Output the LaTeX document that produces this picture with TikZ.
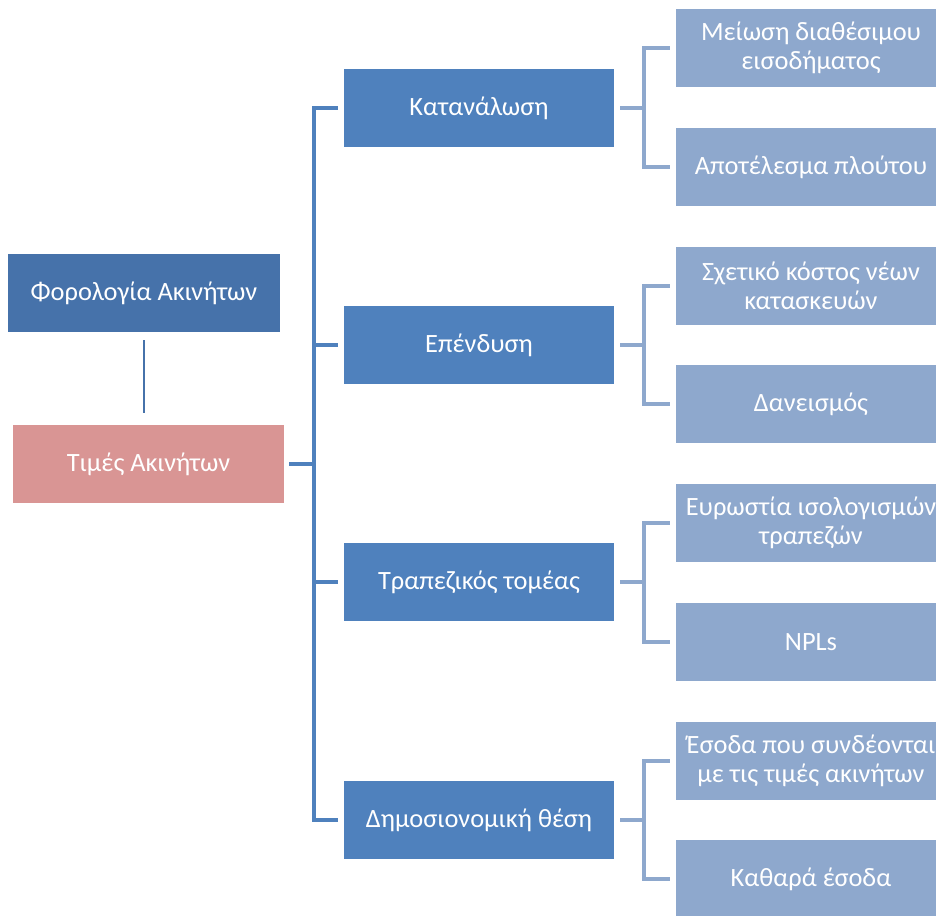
\documentclass[tikz,border=0pt]{standalone}
\usepackage{fontspec}
\setmainfont{Carlito}
\definecolor{topblue}{HTML}{4672AA}
\definecolor{midblue}{HTML}{4F81BD}
\definecolor{lightblue}{HTML}{8EA8CD}
\definecolor{pinkred}{HTML}{D99594}
\begin{document}
\begin{tikzpicture}[x=0.75pt,y=-0.75pt,
  box/.style={rectangle,inner sep=0pt,text=white,align=center,
    font=\fontsize{19.8}{22}\selectfont,minimum width=202.5pt,minimum height=58.5pt},
  topbox/.style={box,fill=topblue,minimum width=204pt},
  rootbox/.style={box,fill=pinkred,minimum width=203pt},
  midbox/.style={box,fill=midblue},
  leafbox/.style={box,fill=lightblue},
  mainconn/.style={draw=midblue,line width=3pt},
  leafconn/.style={draw=lightblue,line width=3pt},
  thinconn/.style={draw=topblue,line width=1.5pt}]
\useasboundingbox (0,0) rectangle (936,916);
\clip (0,0) rectangle (936,916);
\node[topbox] (f) at (144,293) {Φορολογία Ακινήτων};
\node[rootbox] (t) at (148.5,464) {Τιμές Ακινήτων};
\node[midbox] (m1) at (479,108) {Κατανάλωση};
\node[midbox] (m2) at (479,345) {Επένδυση};
\node[midbox] (m3) at (479,582) {Τραπεζικός τομέας};
\node[midbox] (m4) at (479,820) {Δημοσιονομική θέση};
\node[leafbox] (l1) at (811,48) {Μείωση διαθέσιμου\\εισοδήματος};
\node[leafbox] (l2) at (811,167) {Αποτέλεσμα πλούτου};
\node[leafbox] (l3) at (811,286) {Σχετικό κόστος νέων\\κατασκευών};
\node[leafbox] (l4) at (811,404) {Δανεισμός};
\node[leafbox] (l5) at (811,523) {Ευρωστία ισολογισμών\\τραπεζών};
\node[leafbox] (l6) at (811,642) {NPLs};
\node[leafbox] (l7) at (811,761) {Έσοδα που συνδέονται\\με τις τιμές ακινήτων};
\node[leafbox] (l8) at (811,879) {Καθαρά έσοδα};
% thin link
\draw[thinconn] ([yshift=-6pt]f.south) -- ([yshift=9pt]f.south |- t.north);
% main spine
\coordinate (sp) at (314,0);
\draw[mainconn] ([xshift=3.75pt]t.east) -- (sp |- t.east);
\draw[mainconn] ([xshift=-4.5pt]m1.west) -| (sp |- m4.west) -- ([xshift=-4.5pt]m4.west);
\draw[mainconn] (sp |- m2.west) -- ([xshift=-4.5pt]m2.west);
\draw[mainconn] (sp |- m3.west) -- ([xshift=-4.5pt]m3.west);
% leaf brackets
\coordinate (lp) at (644,0);
\foreach \m/\a/\b in {m1/l1/l2,m2/l3/l4,m3/l5/l6,m4/l7/l8}{
  \draw[leafconn] ([xshift=4.5pt]\m.east) -- (lp |- \m.east);
  \draw[leafconn] ([xshift=-4.5pt]\a.west) -| (lp |- \b.west) -- ([xshift=-4.5pt]\b.west);
}
\end{tikzpicture}
\end{document}
